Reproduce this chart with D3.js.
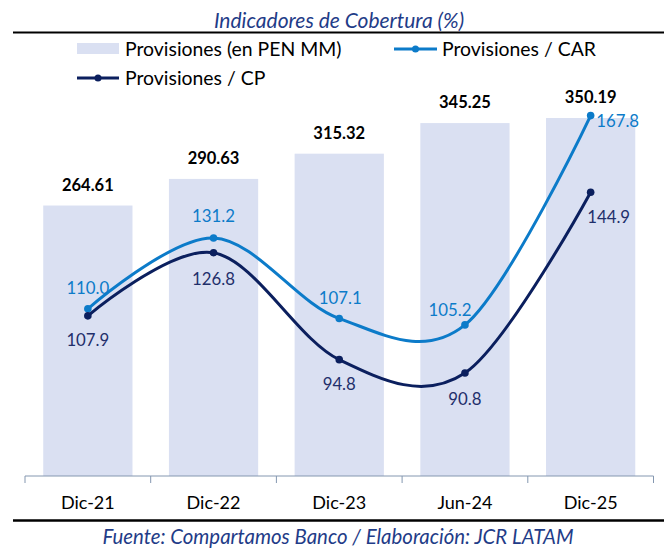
<!DOCTYPE html>
<html>
<head>
<meta charset="utf-8">
<script src="https://cdn.jsdelivr.net/npm/d3@7"></script>
<style>
  html, body { margin: 0; padding: 0; background: #fff; }
  svg { display: block; font-family: Lato, "Open Sans", sans-serif; }
</style>
</head>
<body>
<svg id="chart" width="668" height="549"></svg>
<script>
const categories = ["Dic-21", "Dic-22", "Dic-23", "Jun-24", "Dic-25"];
const provisiones = [264.61, 290.63, 315.32, 345.25, 350.19];
const provCAR = [110.0, 131.2, 107.1, 105.2, 167.8];
const provCP = [107.9, 126.8, 94.8, 90.8, 144.9];
const seriesNames = ["Provisiones (en PEN MM)", "Provisiones / CAR", "Provisiones / CP"];
const titleText = "Indicadores de Cobertura (%)";
const sourceText = "Fuente: Compartamos Banco / Elaboración: JCR LATAM";

const W = 668, H = 549;
const baseY = 476, left = 25, right = 653.5;
const colBar = "#DAE0F2", colCAR = "#0C7BC9", colCP = "#0B1F5E", colTitle = "#1F3C88";

const svg = d3.select("#chart");

const x = d3.scaleBand().domain(categories).range([left, right]).paddingInner(0.29).paddingOuter(0.145);
const y = d3.scaleLinear().domain([0, 450]).range([baseY, 16]);
const y2 = d3.scaleLinear().domain([60, 200]).range([baseY, baseY - 140 * 3.343]);
const cx = c => x(c) + x.bandwidth() / 2;

// title
svg.append("text").attr("x", 339).attr("y", 28).attr("text-anchor", "middle")
  .attr("font-style", "italic").attr("font-size", 21).attr("fill", colTitle).text(titleText);
svg.append("line").attr("x1", 13).attr("x2", 664).attr("y1", 32.5).attr("y2", 32.5)
  .attr("stroke", "#000").attr("stroke-width", 2);

// bars
svg.append("g").selectAll("rect").data(provisiones).join("rect")
  .attr("x", (d, i) => x(categories[i])).attr("width", x.bandwidth())
  .attr("y", d => y(d)).attr("height", d => baseY - y(d)).attr("fill", colBar);

svg.append("g").selectAll("text").data(provisiones).join("text")
  .attr("x", (d, i) => cx(categories[i])).attr("y", d => y(d) - 15)
  .attr("text-anchor", "middle").attr("font-weight", "bold").attr("font-size", 16.5)
  .attr("fill", "#000").text(d => d.toFixed(2));

// axis
const axisG = svg.append("g");
axisG.append("line").attr("x1", left).attr("x2", right).attr("y1", baseY).attr("y2", baseY)
  .attr("stroke", "#8497B0").attr("stroke-width", 1);
const step = x.step();
axisG.selectAll("line.tick").data(d3.range(categories.length + 1)).join("line")
  .attr("class", "tick")
  .attr("x1", i => left + i * step).attr("x2", i => left + i * step)
  .attr("y1", baseY).attr("y2", baseY + 7).attr("stroke", "#8497B0");
axisG.selectAll("text").data(categories).join("text")
  .attr("x", d => cx(d)).attr("y", 508.5).attr("text-anchor", "middle")
  .attr("font-size", 18).attr("fill", "#000").text(d => d);

// lines
const line = d3.line().x((d, i) => cx(categories[i])).y(d => y2(d)).curve(d3.curveCatmullRom.alpha(0));
function drawSeries(data, color) {
  svg.append("path").datum(data).attr("d", line).attr("fill", "none")
    .attr("stroke", color).attr("stroke-width", 3);
  svg.append("g").selectAll("circle").data(data).join("circle")
    .attr("cx", (d, i) => cx(categories[i])).attr("cy", d => y2(d)).attr("r", 3.8).attr("fill", color);
}
drawSeries(provCAR, colCAR);
drawSeries(provCP, colCP);

// line labels
const carOff = [[0, -21], [0, -22], [1, -21], [-15, -15], [27, 5]];
const cpOff = [[0, 24], [0, 26], [0, 24], [0, 26], [18, 25]];
svg.append("g").selectAll("text").data(provCAR).join("text")
  .attr("x", (d, i) => cx(categories[i]) + carOff[i][0])
  .attr("y", (d, i) => y2(d) + carOff[i][1] + 6)
  .attr("text-anchor", "middle").attr("font-size", 16.8).attr("fill", colCAR).text(d => d.toFixed(1));
svg.append("g").selectAll("text").data(provCP).join("text")
  .attr("x", (d, i) => cx(categories[i]) + cpOff[i][0])
  .attr("y", (d, i) => y2(d) + cpOff[i][1] + 6)
  .attr("text-anchor", "middle").attr("font-size", 16.8).attr("fill", "#1F2F6B").text(d => d.toFixed(1));

// legend
const lg = svg.append("g").attr("font-size", 19.4).attr("fill", "#000");
lg.append("rect").attr("x", 77).attr("y", 43).attr("width", 42).attr("height", 11).attr("fill", colBar);
lg.append("text").attr("x", 125).attr("y", 55.5).text(seriesNames[0]);
lg.append("line").attr("x1", 394).attr("x2", 437).attr("y1", 49).attr("y2", 49).attr("stroke", colCAR).attr("stroke-width", 3);
lg.append("circle").attr("cx", 415.5).attr("cy", 49).attr("r", 3.5).attr("fill", colCAR);
lg.append("text").attr("x", 442).attr("y", 55.5).text(seriesNames[1]);
lg.append("line").attr("x1", 77).attr("x2", 119).attr("y1", 78).attr("y2", 78).attr("stroke", colCP).attr("stroke-width", 3);
lg.append("circle").attr("cx", 98).attr("cy", 78).attr("r", 3.5).attr("fill", colCP);
lg.append("text").attr("x", 125).attr("y", 84.5).text(seriesNames[2]);

// footer
svg.append("line").attr("x1", 13).attr("x2", 664).attr("y1", 520.5).attr("y2", 520.5)
  .attr("stroke", "#000").attr("stroke-width", 2.5);
svg.append("text").attr("x", 338).attr("y", 544).attr("text-anchor", "middle")
  .attr("font-style", "italic").attr("font-size", 20.4).attr("fill", colTitle).text(sourceText);
</script>
</body>
</html>
